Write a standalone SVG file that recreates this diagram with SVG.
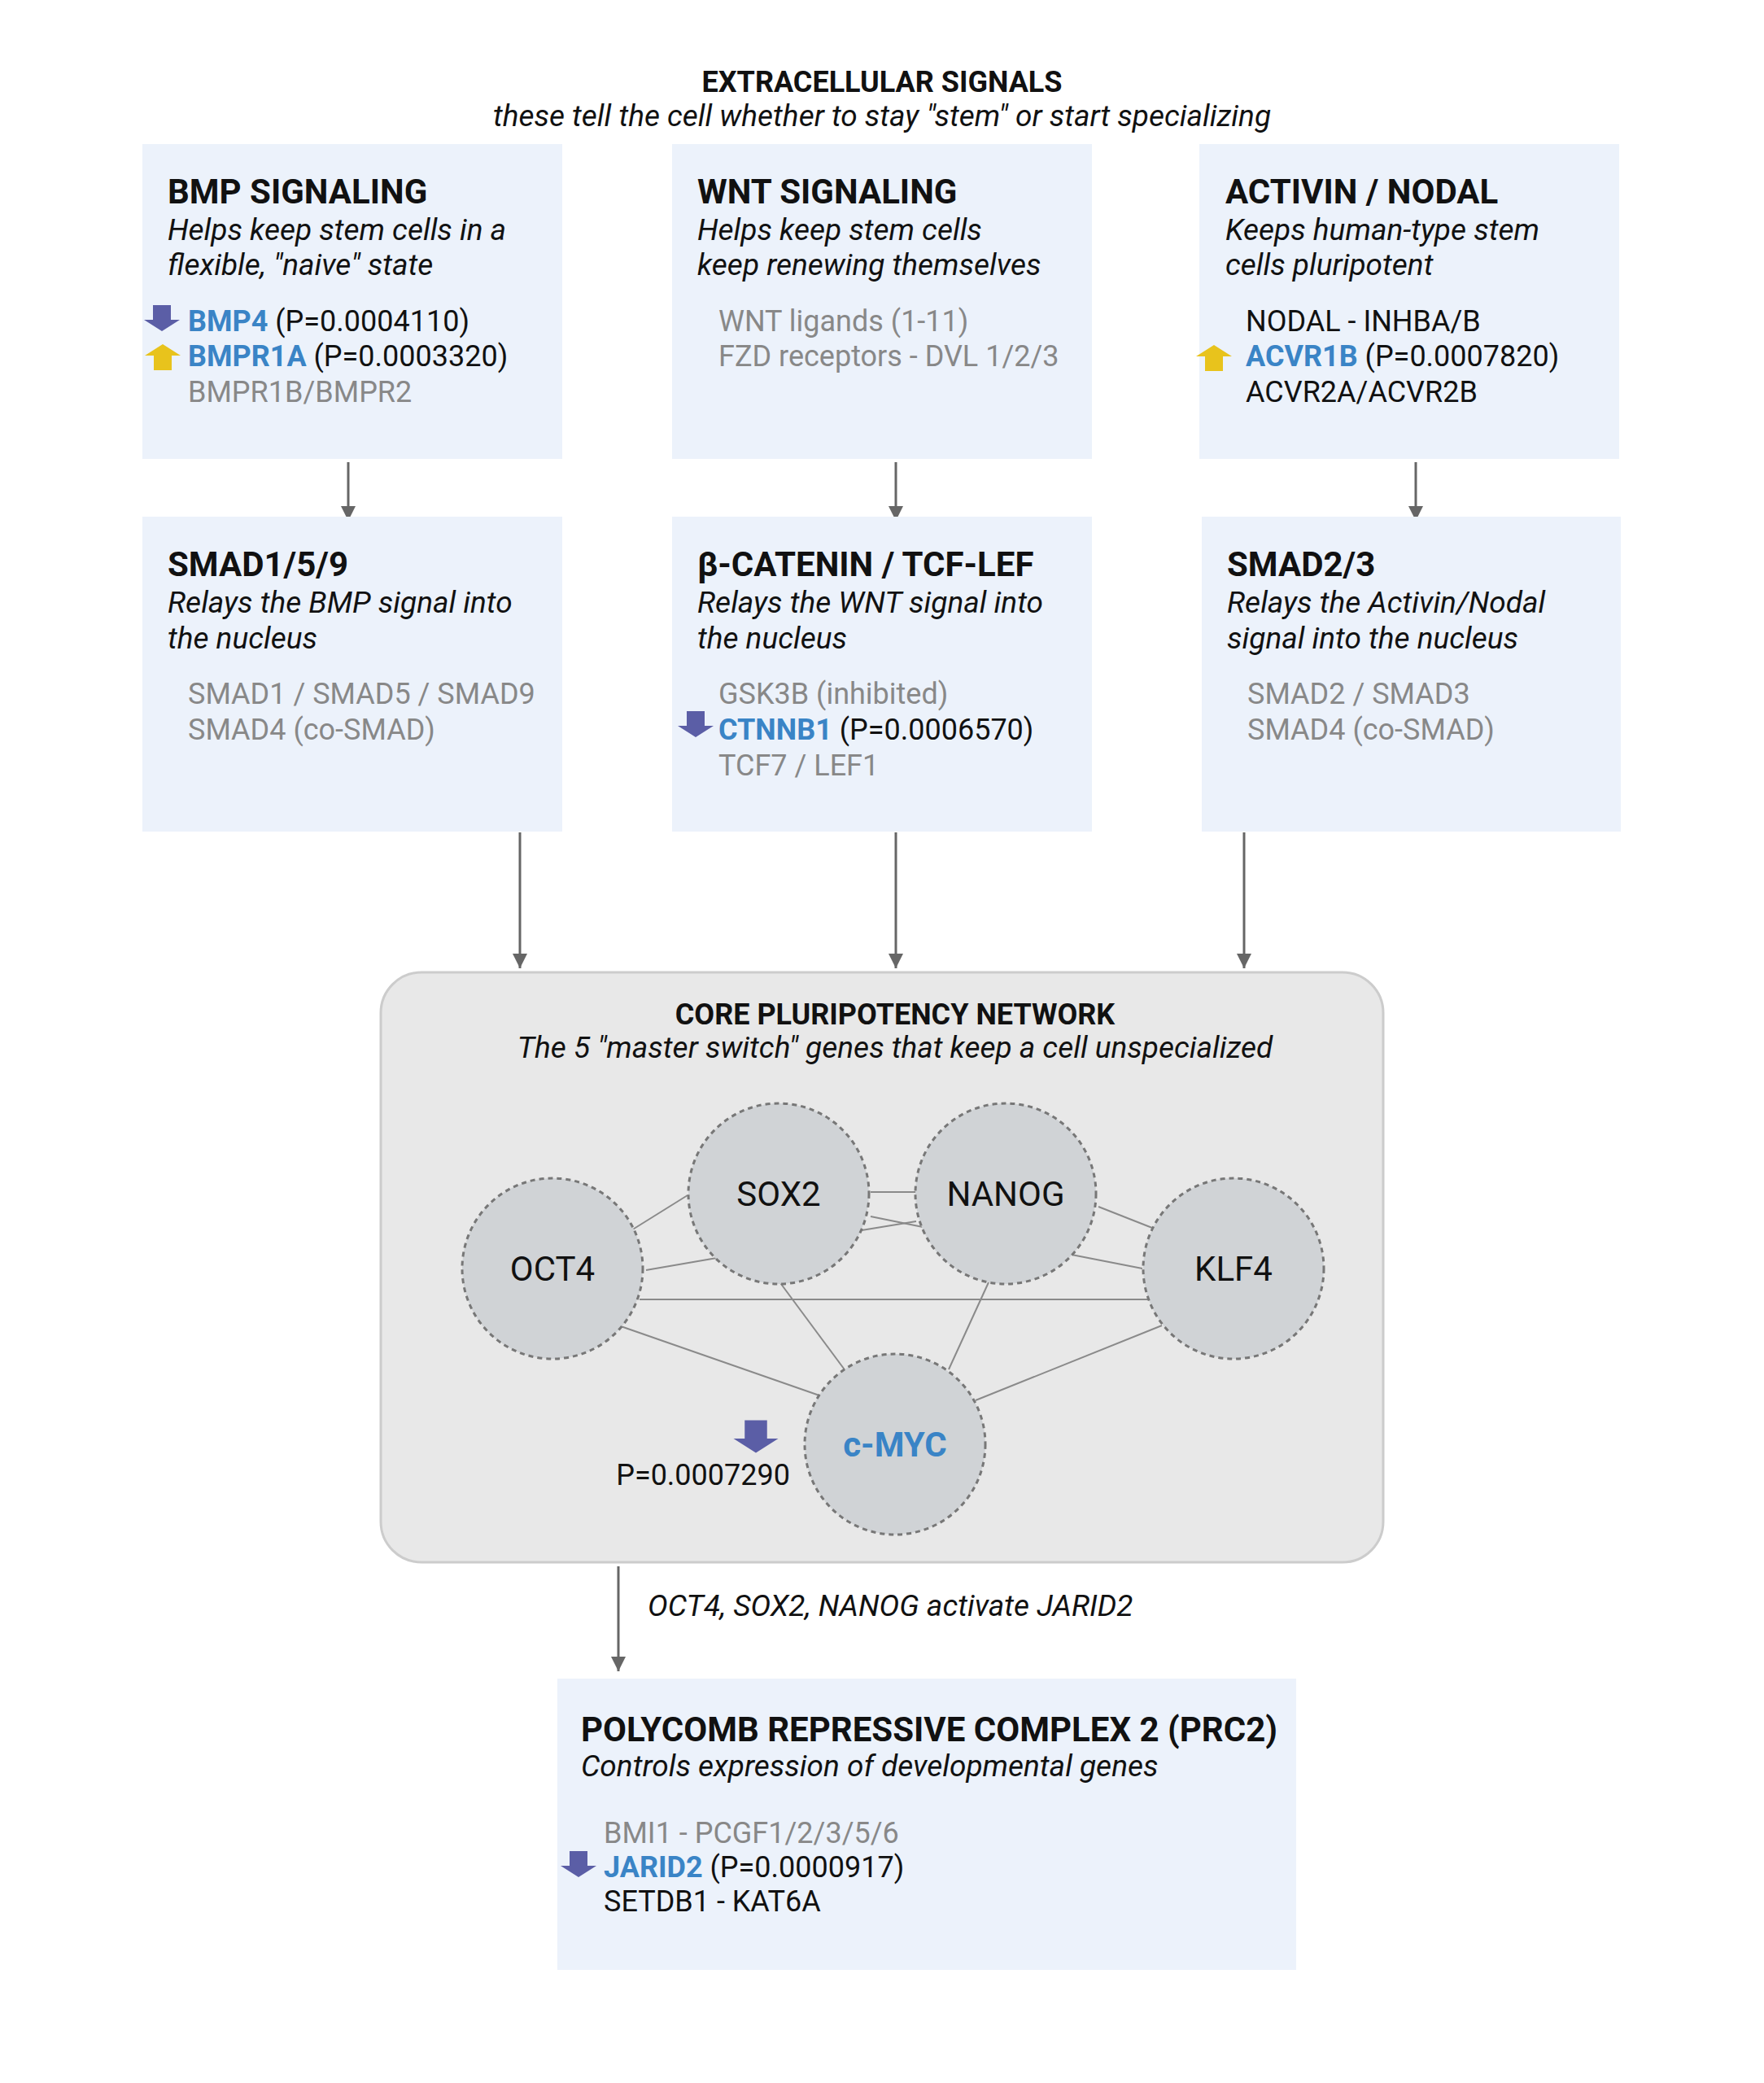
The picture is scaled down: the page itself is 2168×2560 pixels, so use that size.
<svg xmlns="http://www.w3.org/2000/svg" width="2168" height="2560" viewBox="0 0 2168 2560">
<defs>
<style>
text{font-family:Roboto,"Liberation Sans",sans-serif;fill:#111}
.box{fill:#ecf2fb}
.t{font-size:42px;font-weight:700}
.s{font-size:37px;font-style:italic}
.g{font-size:36px}
.gr{fill:#888}
.b{fill:#3a84c6;font-weight:700}
.conn{stroke:#666;stroke-width:3;fill:none}
.edge{stroke:#8a8a8a;stroke-width:2}
.node{fill:#d0d3d6;stroke:#777;stroke-width:3;stroke-dasharray:6 5}
.nl{font-size:42px;text-anchor:middle}
</style>
<marker id="ah" viewBox="0 0 10 10" refX="10" refY="5" markerWidth="6" markerHeight="6" markerUnits="strokeWidth" orient="auto"><path d="M0,0 L10,5 L0,10 Z" fill="#666"/></marker>
<path id="dn" d="M-11,-18 H11 V0 H22 L0,14 L-22,0 H-11 Z" fill="#5b5ea6"/>
<path id="up" d="M-11,18 H11 V0 H22 L0,-14 L-22,0 H-11 Z" fill="#e8c31c"/>
</defs>
<rect width="2168" height="2560" fill="#fff"/>
<g id="header">
<text x="1084" y="113" text-anchor="middle" style="font-size:36px;font-weight:700">EXTRACELLULAR SIGNALS</text>
<text x="1084" y="155" text-anchor="middle" class="s">these tell the cell whether to stay "stem" or start specializing</text>
</g>
<g id="connectors">
<line class="conn" x1="428" y1="568" x2="428" y2="640" marker-end="url(#ah)"/>
<line class="conn" x1="1101" y1="568" x2="1101" y2="640" marker-end="url(#ah)"/>
<line class="conn" x1="1740" y1="568" x2="1740" y2="640" marker-end="url(#ah)"/>
<line class="conn" x1="639" y1="1023" x2="639" y2="1190" marker-end="url(#ah)"/>
<line class="conn" x1="1101" y1="1023" x2="1101" y2="1190" marker-end="url(#ah)"/>
<line class="conn" x1="1529" y1="1023" x2="1529" y2="1190" marker-end="url(#ah)"/>
<line class="conn" x1="760" y1="1925" x2="760" y2="2054" marker-end="url(#ah)"/>
<text x="796" y="1986" class="s">OCT4, SOX2, NANOG activate JARID2</text>
</g>
<g id="bmp">
<rect class="box" x="175" y="177" width="516" height="387"/>
<text x="206" y="250" class="t">BMP SIGNALING</text>
<text x="206" y="295" class="s">Helps keep stem cells in a</text>
<text x="206" y="338" class="s">flexible, "naive" state</text>
<use href="#dn" x="199" y="393"/>
<text x="231" y="407" class="g"><tspan class="b">BMP4</tspan> (P=0.0004110)</text>
<use href="#up" x="200" y="437"/>
<text x="231" y="450" class="g"><tspan class="b">BMPR1A</tspan> (P=0.0003320)</text>
<text x="231" y="494" class="g gr">BMPR1B/BMPR2</text>
</g>
<g id="wnt">
<rect class="box" x="826" y="177" width="516" height="387"/>
<text x="857" y="250" class="t">WNT SIGNALING</text>
<text x="857" y="295" class="s">Helps keep stem cells</text>
<text x="857" y="338" class="s">keep renewing themselves</text>
<text x="883" y="407" class="g gr">WNT ligands (1-11)</text>
<text x="883" y="450" class="g gr">FZD receptors - DVL 1/2/3</text>
</g>
<g id="activin">
<rect class="box" x="1474" y="177" width="516" height="387"/>
<text x="1506" y="250" class="t">ACTIVIN / NODAL</text>
<text x="1506" y="295" class="s">Keeps human-type stem</text>
<text x="1506" y="338" class="s">cells pluripotent</text>
<text x="1531" y="407" class="g">NODAL - INHBA/B</text>
<use href="#up" x="1492" y="438"/>
<text x="1531" y="450" class="g"><tspan class="b">ACVR1B</tspan> (P=0.0007820)</text>
<text x="1531" y="494" class="g">ACVR2A/ACVR2B</text>
</g>
<g id="smad159">
<rect class="box" x="175" y="635" width="516" height="387"/>
<text x="206" y="708" class="t">SMAD1/5/9</text>
<text x="206" y="753" class="s">Relays the BMP signal into</text>
<text x="206" y="797" class="s">the nucleus</text>
<text x="231" y="865" class="g gr">SMAD1 / SMAD5 / SMAD9</text>
<text x="231" y="909" class="g gr">SMAD4 (co-SMAD)</text>
</g>
<g id="catenin">
<rect class="box" x="826" y="635" width="516" height="387"/>
<text x="857" y="708" class="t">β-CATENIN / TCF-LEF</text>
<text x="857" y="753" class="s">Relays the WNT signal into</text>
<text x="857" y="797" class="s">the nucleus</text>
<text x="883" y="865" class="g gr">GSK3B (inhibited)</text>
<use href="#dn" x="855" y="892"/>
<text x="883" y="909" class="g"><tspan class="b">CTNNB1</tspan> (P=0.0006570)</text>
<text x="883" y="953" class="g gr">TCF7 / LEF1</text>
</g>
<g id="smad23">
<rect class="box" x="1477" y="635" width="515" height="387"/>
<text x="1508" y="708" class="t">SMAD2/3</text>
<text x="1508" y="753" class="s">Relays the Activin/Nodal</text>
<text x="1508" y="797" class="s">signal into the nucleus</text>
<text x="1533" y="865" class="g gr">SMAD2 / SMAD3</text>
<text x="1533" y="909" class="g gr">SMAD4 (co-SMAD)</text>
</g>
<g id="core">
<rect x="468" y="1195" width="1232" height="725" rx="50" fill="#e8e8e8" stroke="#ccc" stroke-width="3"/>
<text x="1100" y="1259" text-anchor="middle" style="font-size:36px;font-weight:700">CORE PLURIPOTENCY NETWORK</text>
<text x="1100" y="1300" text-anchor="middle" class="s">The 5 "master switch" genes that keep a cell unspecialized</text>
<g id="core-edges">
<line class="edge" x1="776" y1="1512" x2="845" y2="1469"/>
<line class="edge" x1="794" y1="1561" x2="881" y2="1546"/>
<line class="edge" x1="1070" y1="1465" x2="1126" y2="1465"/>
<line class="edge" x1="1070" y1="1495" x2="1134" y2="1508"/>
<line class="edge" x1="1059" y1="1512" x2="1126" y2="1501"/>
<line class="edge" x1="1350" y1="1483" x2="1416" y2="1509"/>
<line class="edge" x1="1317" y1="1542" x2="1404" y2="1559"/>
<line class="edge" x1="786" y1="1597" x2="1412" y2="1597"/>
<line class="edge" x1="763" y1="1630" x2="1007" y2="1715"/>
<line class="edge" x1="957" y1="1574" x2="1040" y2="1686"/>
<line class="edge" x1="1215" y1="1576" x2="1166" y2="1683"/>
<line class="edge" x1="1428" y1="1629" x2="1199" y2="1721"/>
</g>
<g id="sox2"><circle class="node" cx="957" cy="1467" r="111"/><text class="nl" x="957" y="1482">SOX2</text></g>
<g id="nanog"><circle class="node" cx="1236" cy="1467" r="111"/><text class="nl" x="1236" y="1482">NANOG</text></g>
<g id="oct4"><circle class="node" cx="679" cy="1559" r="111"/><text class="nl" x="679" y="1574">OCT4</text></g>
<g id="klf4"><circle class="node" cx="1516" cy="1559" r="111"/><text class="nl" x="1516" y="1574">KLF4</text></g>
<g id="cmyc"><circle class="node" cx="1100" cy="1775" r="111"/><text class="nl" x="1100" y="1790" style="fill:#3a84c6;font-weight:700">c-MYC</text></g>
<use href="#dn" x="929" y="1768" transform="translate(929 1768) scale(1.25) translate(-929 -1768)"/>
<text x="971" y="1825" text-anchor="end" class="g">P=0.0007290</text>
</g>
<g id="prc2">
<rect class="box" x="685" y="2063" width="908" height="358"/>
<text x="714" y="2140" class="t">POLYCOMB REPRESSIVE COMPLEX 2 (PRC2)</text>
<text x="714" y="2183" class="s">Controls expression of developmental genes</text>
<text x="742" y="2265" class="g gr">BMI1 - PCGF1/2/3/5/6</text>
<use href="#dn" x="711" y="2293"/>
<text x="742" y="2307" class="g"><tspan class="b">JARID2</tspan> (P=0.0000917)</text>
<text x="742" y="2349" class="g">SETDB1 - KAT6A</text>
</g>
</svg>
